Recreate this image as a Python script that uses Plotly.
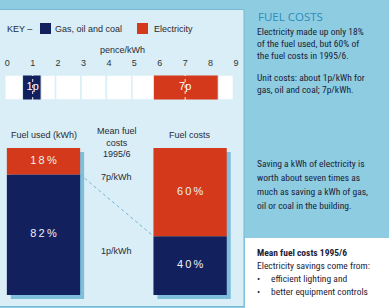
import plotly.graph_objects as go

# ---------------- data ----------------
fuels = ["Gas, oil and coal", "Electricity"]
price_p = [1, 7]                      # pence per kWh (mean 1995/6)
price_low = [0.6, 5.75]               # extent of price band on the scale
price_high = [1.33, 8.3]
price_labels = ["1p", "7p"]
scale_ticks = [0, 1, 2, 3, 4, 5, 6, 7, 8, 9]
scale_cells = [-0.1, 1.9, 2.9, 3.9, 4.9, 5.9, 6.9, 7.9, 8.9]   # cell edges of the scale strip

columns = ["Fuel used (kWh)", "Mean fuel<br>costs<br>1995/6", "Fuel costs"]
gas_share = [82, 40]                  # % gas, oil and coal  (used, cost)
elec_share = [18, 60]                 # % electricity        (used, cost)
mid_labels = ["7p/kWh", "1p/kWh"]
mid_label_y = [80, 30]

# ---------------- style ----------------
W, H = 389, 308
NAVY = "#13205e"
RED = "#d4391b"
PANEL = "#d9eef6"
BG = "#8dcce1"
SHADOW = "#80bfdb"
TXT = "#2a2a35"
BODY_FONT = "Liberation Sans Narrow, Roboto Condensed, DejaVu Sans Condensed, Liberation Sans"


def fx(p):
    return p / W


def fy(p):
    return 1 - p / H


fig = go.Figure()

# ---- pence/kWh scale strip (x / y) ----
cell_base = scale_cells[:-1]
cell_w = [b - a for a, b in zip(scale_cells[:-1], scale_cells[1:])]
fig.add_trace(go.Bar(orientation="h", y=[0] * len(cell_w), x=cell_w, base=cell_base,
                     width=1, marker=dict(color="white", line=dict(color=PANEL, width=1.5)),
                     hoverinfo="skip", showlegend=False, xaxis="x", yaxis="y"))
colors = [NAVY, RED]
for i in range(len(fuels)):
    fig.add_trace(go.Bar(orientation="h", y=[0], x=[price_high[i] - price_low[i]], base=[price_low[i]],
                         width=1, marker=dict(color=colors[i], line=dict(color=PANEL, width=1)),
                         name=fuels[i], showlegend=False, xaxis="x", yaxis="y"))
    fig.add_trace(go.Scatter(x=[price_p[i], price_p[i]], y=[-0.5, 0.5], mode="lines",
                             line=dict(color="rgba(255,255,255,0.9)", width=1, dash="dot"),
                             showlegend=False, hoverinfo="skip", xaxis="x", yaxis="y"))
fig.add_trace(go.Scatter(x=price_p, y=[0, 0], mode="text", text=price_labels,
                         textfont=dict(color="white", size=11, family="Liberation Sans, Arial"),
                         showlegend=False, hoverinfo="skip", xaxis="x", yaxis="y"))

# ---- stacked columns: shadow (x2/y2) and main (x3/y3) ----
pos = [0, 2]
totals = [g + e for g, e in zip(gas_share, elec_share)]
fig.add_trace(go.Bar(x=pos, y=totals, base=[0, 0], width=1, marker=dict(color=SHADOW, line=dict(width=0)),
                     showlegend=False, hoverinfo="skip", xaxis="x2", yaxis="y2"))
fig.add_trace(go.Bar(x=pos, y=gas_share, base=[0, 0], width=1, marker=dict(color=NAVY, line=dict(width=0)),
                     name=fuels[0], showlegend=False, xaxis="x3", yaxis="y3"))
fig.add_trace(go.Bar(x=pos, y=elec_share, base=gas_share, width=1, marker=dict(color=RED, line=dict(width=0)),
                     name=fuels[1], showlegend=False, xaxis="x3", yaxis="y3"))
# connector between the gas/electricity boundaries
fig.add_trace(go.Scatter(x=[pos[0] + 0.5, pos[1] - 0.5], y=gas_share, mode="lines",
                         line=dict(color="#72b4d4", width=1, dash="dot"),
                         showlegend=False, hoverinfo="skip", xaxis="x3", yaxis="y3"))


def spaced(s):
    return "\u2009".join(s)


lab_x, lab_y, lab_t = [], [], []
for i, p in enumerate(pos):
    lab_x += [p, p]
    lab_y += [gas_share[i] / 2, gas_share[i] + elec_share[i] / 2]
    lab_t += [spaced(f"{gas_share[i]}%"), spaced(f"{elec_share[i]}%")]
fig.add_trace(go.Scatter(x=lab_x, y=lab_y, mode="text", text=lab_t,
                         textfont=dict(color="#eef0f6", size=11, family="Liberation Sans, Arial"),
                         showlegend=False, hoverinfo="skip", xaxis="x3", yaxis="y3"))

# ---------------- layout ----------------
strip_rng0 = -7.3 / 25.41
x_rng = [-43.5 / 73.3, -43.5 / 73.3 + W / 73.3]
shift = 4 / 73.3

annotations = []


def ann(x, y, text, xref="paper", yref="paper", xanchor="center", size=9, color=TXT, family=None):
    f = dict(size=size, color=color)
    if family:
        f["family"] = family
    annotations.append(dict(x=x, y=y, xref=xref, yref=yref, text=text, showarrow=False,
                            xanchor=xanchor, yanchor="middle", font=f))


# column headings
ann(0, fy(135), columns[0], xref="x3")
ann(1, fy(142), columns[1], xref="x3")
ann(2, fy(135), columns[2], xref="x3")
for t, yv in zip(mid_labels, mid_label_y):
    ann(1, yv, t, xref="x3", yref="y3")
# key
ann(fx(5), fy(29), "KEY \u2013", xanchor="left")
ann(fx(53), fy(29), fuels[0], xanchor="left")
ann(fx(152), fy(29), fuels[1], xanchor="left")
ann(fx(122), fy(50), "pence/kWh")

# right-hand text column
ann(fx(256), fy(16), "FUEL COSTS", xanchor="left", size=11.5, color="#2b8cba", family="Open Sans")
body = [
    (31, "Electricity made up only 18%"),
    (43, "of the fuel used, but 60% of"),
    (55, "the fuel costs in 1995/6."),
    (77, "Unit costs: about 1p/kWh for"),
    (90, "gas, oil and coal; 7p/kWh."),
    (163, "Saving a kWh of electricity is"),
    (177, "worth about seven times as"),
    (191, "much as saving a kWh of gas,"),
    (205, "oil or coal in the building."),
    (252, "<b>Mean fuel costs 1995/6</b>"),
    (265, "Electricity savings come from:"),
    (278, "\u2022     efficient lighting and"),
    (291, "\u2022     better equipment controls"),
]
for yy, t in body:
    ann(fx(255), fy(yy), t, xanchor="left", size=9.5, color="#1c1d38", family=BODY_FONT)

shapes = [
    dict(type="rect", xref="paper", yref="paper", x0=fx(-2), x1=fx(244), y0=fy(306.5), y1=fy(9.5),
         fillcolor=PANEL, line=dict(color="#79b9d4", width=1), layer="below"),
    dict(type="rect", xref="paper", yref="paper", x0=fx(245), x1=1.01, y0=-0.01, y1=fy(238),
         fillcolor="white", line=dict(width=0), layer="below"),
    dict(type="rect", xref="paper", yref="paper", x0=fx(40), x1=fx(51), y0=fy(34), y1=fy(23),
         fillcolor=NAVY, line=dict(width=0)),
    dict(type="rect", xref="paper", yref="paper", x0=fx(137), x1=fx(148), y0=fy(34), y1=fy(23),
         fillcolor=RED, line=dict(width=0)),
]

fig.update_layout(
    width=W, height=H, margin=dict(l=0, r=0, t=0, b=0),
    paper_bgcolor=BG, plot_bgcolor="rgba(0,0,0,0)",
    barmode="overlay", showlegend=False,
    font=dict(family="Liberation Sans, Arial", size=9, color=TXT),
    xaxis=dict(domain=[0, 1], range=[strip_rng0, strip_rng0 + W / 25.41], side="top", anchor="y",
               tickvals=scale_ticks, ticktext=[str(t) for t in scale_ticks],
               tickfont=dict(size=9, color="#333"), ticks="outside", ticklen=4,
               tickcolor="rgba(0,0,0,0)", showgrid=False, zeroline=False, showline=False, fixedrange=True),
    yaxis=dict(domain=[fy(100), fy(75)], range=[-0.5, 0.5], visible=False, fixedrange=True),
    xaxis2=dict(domain=[0, 1], range=[x_rng[0] - shift, x_rng[1] - shift], anchor="y2", visible=False),
    yaxis2=dict(domain=[fy(299), fy(152)], range=[0, 100], anchor="x2", visible=False),
    xaxis3=dict(domain=[0, 1], range=x_rng, anchor="y3", visible=False),
    yaxis3=dict(domain=[fy(295), fy(148)], range=[0, 100], anchor="x3", visible=False),
    annotations=annotations, shapes=shapes,
)

fig.write_html("out.html")
